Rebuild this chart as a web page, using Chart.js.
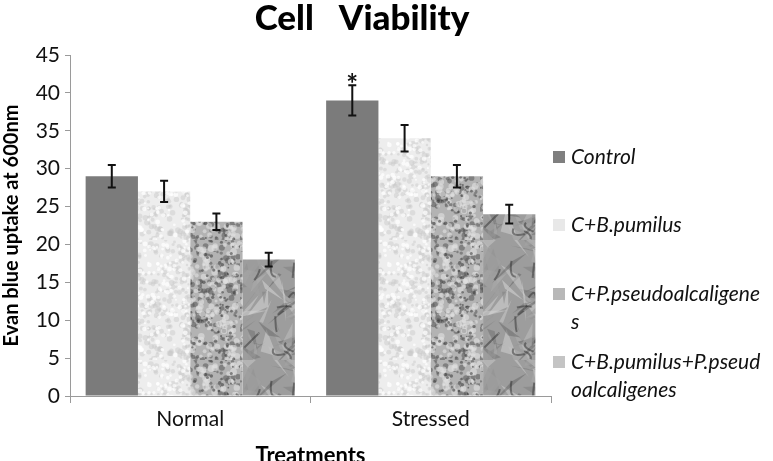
<!DOCTYPE html>
<html>
<head>
<meta charset="utf-8">
<script src="https://cdn.jsdelivr.net/npm/chart.js@4.4.0/dist/chart.umd.min.js"></script>
<style>
    html, body { margin: 0; padding: 0; background: #fff; }
    #grafica { display: block; }
</style>
</head>
<body>
<canvas id="grafica" width="773" height="461"></canvas>
<script>
    // datos
    const categorias = ['Normal', 'Stressed'];
    const series = ['Control', 'C+B.pumilus', 'C+P.pseudoalcaligenes', 'C+B.pumilus+P.pseudoalcaligenes'];
    const control = [29, 39];
    const bPumilus = [27, 34];
    const pPseudo = [23, 29];
    const combinado = [18, 24];
    const errControl = [1.5, 2];
    const errBPumilus = [1.4, 1.75];
    const errPPseudo = [1.1, 1.5];
    const errCombinado = [0.9, 1.25];
    const ticksY = [0, 5, 10, 15, 20, 25, 30, 35, 40, 45];
    // lineas de la leyenda tal como aparecen cortadas
    const leyendaLineas = [['Control'], ['C+B.pumilus'], ['C+P.pseudoalcaligene', 's'], ['C+B.pumilus+P.pseud', 'oalcaligenes']];
    // serie y categoria marcadas con asterisco
    const asteriscos = [[0, 1]];

    const errores = [errControl, errBPumilus, errPPseudo, errCombinado];

    // generador con semilla para las texturas (solo estilo)
    function semilla(s) {
        return function() {
            s |= 0; s = s + 0x6D2B79F5 | 0;
            let t = Math.imul(s ^ s >>> 15, 1 | s);
            t = t + Math.imul(t ^ t >>> 7, 61 | t) ^ t;
            return ((t ^ t >>> 14) >>> 0) / 4294967296;
        };
    }

    function textura(base, dibujar, n) {
        const c = document.createElement('canvas');
        c.width = 120; c.height = 120;
        const cx = c.getContext('2d');
        cx.fillStyle = base;
        cx.fillRect(0, 0, 120, 120);
        dibujar(cx, semilla(n));
        return document.getElementById('grafica').getContext('2d').createPattern(c, 'repeat');
    }

    function manchas(cx, rnd, cantidad, rMin, rMax, color) {
        cx.fillStyle = color;
        for (let i = 0; i < cantidad; i++) {
            const x = rnd() * 120, y = rnd() * 120, r = rMin + rnd() * (rMax - rMin);
            cx.beginPath();
            cx.arc(x, y, r, 0, Math.PI * 2);
            cx.fill();
        }
    }

    const patronBPumilus = textura('#ededed', (cx, rnd) => {
        manchas(cx, rnd, 500, 1, 3, 'rgba(200,200,200,0.45)');
        manchas(cx, rnd, 300, 1, 2.5, 'rgba(255,255,255,0.7)');
    }, 7);

    const patronPPseudo = textura('#b3b3b3', (cx, rnd) => {
        manchas(cx, rnd, 400, 1, 3, 'rgba(85,85,85,0.55)');
        manchas(cx, rnd, 350, 1.5, 3.5, 'rgba(225,225,225,0.6)');
        manchas(cx, rnd, 180, 0.8, 1.8, 'rgba(55,55,55,0.55)');
    }, 11);

    const patronCombinado = textura('#9d9d9d', (cx, rnd) => {
        for (let i = 0; i < 110; i++) {
            const x = rnd() * 120, y = rnd() * 120;
            const g = Math.floor(90 + rnd() * 130);
            cx.fillStyle = `rgba(${g},${g},${g},0.5)`;
            cx.beginPath();
            cx.moveTo(x, y);
            cx.lineTo(x + (rnd() - 0.5) * 45, y + (rnd() - 0.5) * 45);
            cx.lineTo(x + (rnd() - 0.5) * 45, y + (rnd() - 0.5) * 45);
            cx.closePath();
            cx.fill();
        }
        cx.strokeStyle = 'rgba(45,45,45,0.5)';
        cx.lineWidth = 2;
        for (let i = 0; i < 16; i++) {
            const x = rnd() * 120, y = rnd() * 120;
            cx.beginPath();
            cx.moveTo(x, y);
            cx.quadraticCurveTo(x + (rnd() - 0.5) * 30, y + (rnd() - 0.5) * 30, x + (rnd() - 0.5) * 40, y + (rnd() - 0.5) * 40);
            cx.stroke();
        }
    }, 23);

    const colores = ['#7b7b7b', patronBPumilus, patronPPseudo, patronCombinado];
    const coloresLeyenda = ['#7f7f7f', '#e8e8e8', '#b8b8b8', '#c4c4c4'];

    const fuente = 'Lato, "Open Sans", sans-serif';

    const extras = {
        id: 'extras',
        afterDatasetsDraw(chart) {
            const ctx = chart.ctx;
            const y = chart.scales.y;
            ctx.save();
            ctx.strokeStyle = '#111';
            ctx.lineWidth = 2;
            chart.data.datasets.forEach((ds, i) => {
                const meta = chart.getDatasetMeta(i);
                meta.data.forEach((barra, j) => {
                    const v = ds.data[j];
                    const e = errores[i][j];
                    const arriba = y.getPixelForValue(v + e);
                    const abajo = y.getPixelForValue(v - e);
                    ctx.beginPath();
                    ctx.moveTo(barra.x, arriba);
                    ctx.lineTo(barra.x, abajo);
                    ctx.moveTo(barra.x - 4, arriba);
                    ctx.lineTo(barra.x + 4, arriba);
                    ctx.moveTo(barra.x - 4, abajo);
                    ctx.lineTo(barra.x + 4, abajo);
                    ctx.stroke();
                });
            });

            ctx.fillStyle = '#111';
            ctx.font = 'bold 28px ' + fuente;
            ctx.textAlign = 'center';
            ctx.textBaseline = 'alphabetic';
            asteriscos.forEach(([s, c]) => {
                const barra = chart.getDatasetMeta(s).data[c];
                const v = chart.data.datasets[s].data[c] + errores[s][c];
                ctx.fillText('*', barra.x, y.getPixelForValue(v) + 9);
            });
            ctx.restore();
        },
        afterDraw(chart) {
            const ctx = chart.ctx;
            ctx.save();
            // titulo
            ctx.fillStyle = '#000';
            ctx.font = '900 35px ' + fuente;
            ctx.textAlign = 'center';
            ctx.textBaseline = 'middle';
            ctx.fillText('Cell   Viability', 362, 19);

            // leyenda
            const filas = [157, 225, 294, 362];
            ctx.font = 'italic 21px ' + fuente;
            ctx.textAlign = 'left';
            leyendaLineas.forEach((lineas, i) => {
                ctx.fillStyle = coloresLeyenda[i];
                ctx.fillRect(553, filas[i] - 6, 12, 12);
                ctx.fillStyle = '#111';
                lineas.forEach((texto, k) => {
                    ctx.fillText(texto, 571, filas[i] + k * 28);
                });
            });
            ctx.restore();
        }
    };

    const ctx = document.getElementById('grafica').getContext('2d');
    const myChart = new Chart(ctx, {
        type: 'bar',
        data: {
            labels: categorias,
            datasets: [control, bPumilus, pPseudo, combinado].map((datos, i) => ({
                label: series[i],
                data: datos,
                backgroundColor: colores[i],
                borderWidth: 0,
                categoryPercentage: 0.87,
                barPercentage: 1
            }))
        },
        options: {
            responsive: false,
            animation: false,
            layout: {
                padding: { left: 0, right: 222, top: 55, bottom: 0 }
            },
            plugins: {
                legend: { display: false },
                title: { display: false },
                tooltip: { enabled: false }
            },
            scales: {
                x: {
                    grid: {
                        offset: true,
                        drawOnChartArea: false,
                        drawTicks: true,
                        tickLength: 7,
                        color: '#9a9a9a'
                    },
                    border: { color: '#9a9a9a' },
                    ticks: {
                        color: '#111',
                        font: { family: fuente, size: 21 },
                        padding: 4
                    },
                    title: {
                        display: true,
                        text: 'Treatments',
                        color: '#000',
                        font: { family: fuente, size: 22, weight: 'bold' },
                        padding: { top: 4, bottom: -8 }
                    },
                    afterFit(scale) { scale.height = 65; }
                },
                y: {
                    min: 0,
                    max: 45,
                    afterBuildTicks(scale) {
                        scale.ticks = ticksY.map(v => ({ value: v }));
                    },
                    grid: {
                        drawOnChartArea: false,
                        drawTicks: true,
                        tickLength: 5,
                        color: '#9a9a9a'
                    },
                    border: { color: '#9a9a9a' },
                    ticks: {
                        color: '#111',
                        font: { family: fuente, size: 21 },
                        padding: 5
                    },
                    title: {
                        display: true,
                        text: 'Evan blue uptake at 600nm',
                        color: '#000',
                        font: { family: fuente, size: 20, weight: 'bold' },
                        padding: { top: 0, bottom: 2 }
                    },
                    afterFit(scale) { scale.width = 70; }
                }
            }
        },
        plugins: [extras]
    });
</script>
</body>
</html>
